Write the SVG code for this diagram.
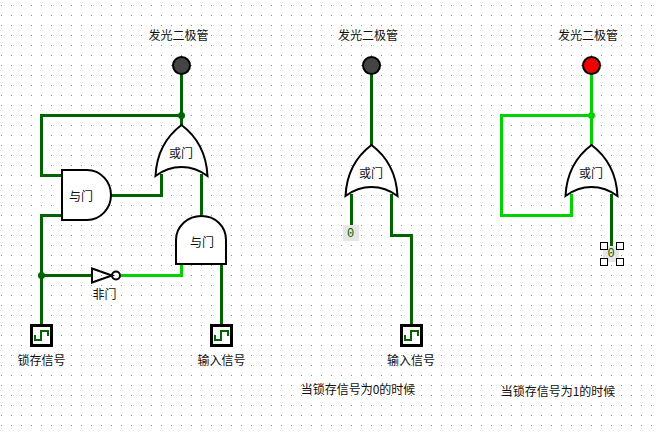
<svg xmlns="http://www.w3.org/2000/svg" width="661" height="433" viewBox="0 0 661 433">
<style>
text{font-family:"Noto Sans CJK SC","Liberation Sans",sans-serif;font-size:12px;fill:#111;text-anchor:middle}
.w{fill:none;stroke-width:3;stroke-linejoin:miter;stroke-linecap:square;shape-rendering:crispEdges}
.d{stroke:#006400}.b{stroke:#00d200}
.jd{fill:#006400}.jb{fill:#00d200}
.g{fill:#fff;stroke:#000;stroke-width:2}
.gn{fill:none;stroke:#000;stroke-width:2}
.pin{fill:#fff;stroke:#000;stroke-width:3;shape-rendering:crispEdges}
.sq{fill:none;stroke:#006400;stroke-width:2;shape-rendering:crispEdges}
.h{fill:#fff;stroke:#000;stroke-width:1.2;shape-rendering:crispEdges}
.z{fill:#e6e6e6}
.zt{fill:#006400;font-family:"Liberation Mono",monospace;font-size:12px}
</style>
<defs>
<pattern id="grid" x="0" y="0" width="10" height="10" patternUnits="userSpaceOnUse"><rect x="1" y="5" width="1" height="1" fill="#8a8a8a"/></pattern>
<path id="orgate" class="g" d="M-26 51 C-25 30 -16 12 0 0 C16 12 25 30 26 51 C18 45 8 42 0 42 C-8 42 -18 45 -26 51Z"/>
<g id="pinshape"><rect class="pin" x="-9" y="1.500" width="20" height="20"/><path class="sq" d="M-5.500 11V15.500H.5V7H7.500V12"/></g>
</defs>
<rect width="661" height="433" fill="#fff"/>
<rect width="661" height="433" fill="url(#grid)"/>
<g id="connectors">
<path class="w d" d="M181.500 75V125M181.500 115.500H41.500V175.500H61M111 195.500H161.500V175M201.500 175V215M41.500 215.500H61M41.500 215.500V325M41.500 275.500H91M221.500 265V325"/>
<path class="w b" d="M122 275.500H181.500V265"/>
<path class="w d" d="M371.500 75V145M351.500 195V226M391.500 195V235.500H411.500V325"/>
<path class="w b" d="M591.500 75V145M591.500 115.500H501.500V215.500H571.500V195"/>
<path class="w d" d="M611.500 195V246"/>
<circle class="jd" cx="181.500" cy="115.500" r="3.500"/>
<circle class="jd" cx="41.500" cy="275.500" r="3.500"/>
<circle class="jb" cx="591.500" cy="115.500" r="3.500"/>
</g>
<g id="led1"><circle cx="181.500" cy="65.500" r="8.500" fill="#444" stroke="#000" stroke-width="2"/><text x="178.500" y="40">发光二极管</text></g>
<g id="or1"><use href="#orgate" x="181.500" y="125"/><text x="181" y="158">或门</text></g>
<g id="and1"><path class="g" d="M62 170H87C101 170 111 182 111 195C111 208 101 220 87 220H62Z"/><text x="81" y="201">与门</text></g>
<g id="and2"><path class="g" d="M176 264V240C176 226 188 216 201.500 216C215 216 226 226 226 240V264Z"/><text x="202" y="247">与门</text></g>
<g id="not1"><path class="gn" d="M92 268.500V282.500L112 275.500Z"/><circle class="gn" cx="116" cy="275.500" r="4"/><text x="104.500" y="299">非门</text></g>
<g id="pin-latch"><use href="#pinshape" x="40" y="324"/><text x="41.500" y="365">锁存信号</text></g>
<g id="pin-input1"><use href="#pinshape" x="220" y="324"/><text x="221.500" y="365">输入信号</text></g>
<g id="led2"><circle cx="371.500" cy="65.500" r="8.500" fill="#444" stroke="#000" stroke-width="2"/><text x="368" y="40">发光二极管</text></g>
<g id="or2"><use href="#orgate" x="371.500" y="145"/><text x="371" y="178">或门</text></g>
<g id="const0a"><rect class="z" x="343" y="225" width="16" height="16"/><text class="zt" x="350.500" y="237">0</text></g>
<g id="pin-input2"><use href="#pinshape" x="410" y="324"/><text x="411" y="365">输入信号</text></g>
<text id="caption0" x="358" y="394">当锁存信号为0的时候</text>
<g id="led3"><circle cx="591.500" cy="65.500" r="8.500" fill="#f00000" stroke="#000" stroke-width="2"/><text x="588" y="40">发光二极管</text></g>
<g id="or3"><use href="#orgate" x="591.500" y="145"/><text x="591" y="178">或门</text></g>
<g id="const0b"><rect class="z" x="603" y="246" width="16" height="16"/><text class="zt" x="611" y="257">0</text>
<rect class="h" x="600.500" y="242.500" width="7" height="7"/><rect class="h" x="616.500" y="242.500" width="7" height="7"/><rect class="h" x="600.500" y="258.500" width="7" height="7"/><rect class="h" x="616.500" y="258.500" width="7" height="7"/></g>
<text id="caption1" x="558" y="396">当锁存信号为1的时候</text>
</svg>
